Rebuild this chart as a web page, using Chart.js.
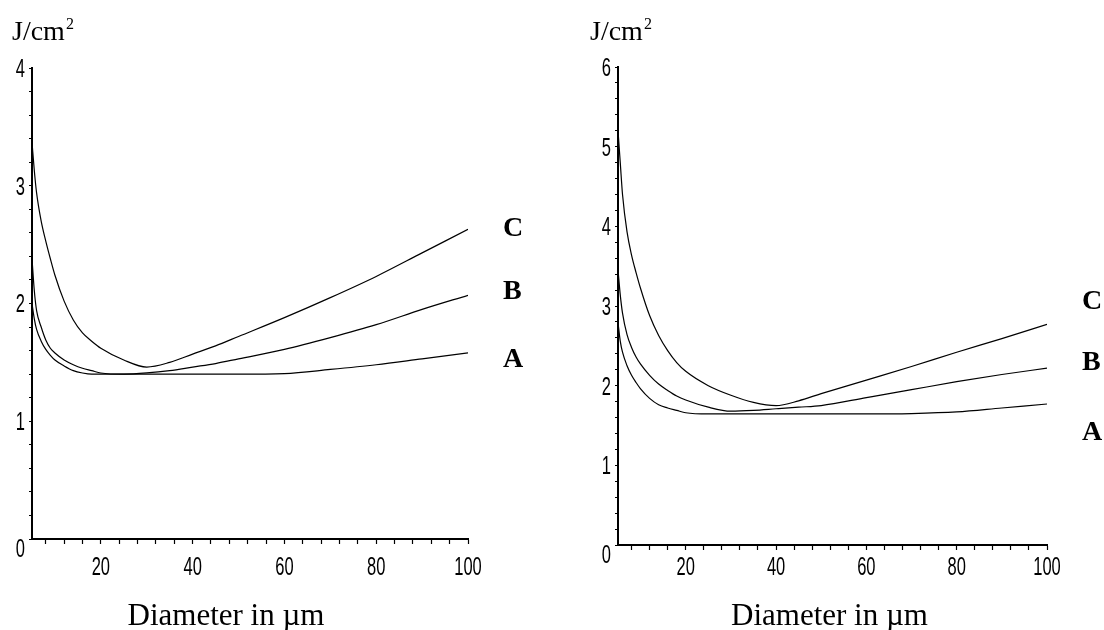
<!DOCTYPE html>
<html>
<head>
<meta charset="utf-8">
<script src="https://cdn.jsdelivr.net/npm/chart.js@4.4.1/dist/chart.umd.min.js"></script>
<style>
  html, body { margin: 0; padding: 0; background: #fff; }
  #wrap { position: relative; width: 1104px; height: 630px; }
  canvas { position: absolute; top: 0; }
</style>
</head>
<body>
<div id="wrap">
  <canvas id="left" width="552" height="630" style="left:0"></canvas>
  <canvas id="right" width="552" height="630" style="left:552px"></canvas>
</div>
<script>
// diameter (µm), shared by all curves
const diameters = [5, 5.5, 6, 7, 8, 9, 10, 12, 14, 16, 18, 20, 25, 30, 35, 40, 45, 50, 60, 70, 80, 90, 100]

// left panel, J/cm2
const leftA = [2.00, 1.87, 1.78, 1.68, 1.61, 1.56, 1.52, 1.47, 1.43, 1.41, 1.40, 1.40, 1.40, 1.40, 1.40, 1.40, 1.40, 1.40, 1.405, 1.44, 1.48, 1.53, 1.58]
const leftB = [2.38, 2.11, 1.94, 1.80, 1.69, 1.62, 1.58, 1.52, 1.48, 1.45, 1.43, 1.41, 1.40, 1.41, 1.43, 1.46, 1.49, 1.53, 1.61, 1.71, 1.82, 1.95, 2.07]
const leftC = [3.37, 3.13, 2.94, 2.70, 2.53, 2.38, 2.24, 2.02, 1.86, 1.75, 1.68, 1.62, 1.52, 1.46, 1.50, 1.57, 1.64, 1.72, 1.88, 2.05, 2.23, 2.43, 2.63]

// right panel, J/cm2
const rightA = [2.79, 2.56, 2.42, 2.25, 2.13, 2.04, 1.96, 1.84, 1.76, 1.72, 1.69, 1.66, 1.645, 1.645, 1.645, 1.645, 1.645, 1.645, 1.645, 1.65, 1.67, 1.72, 1.77]
const rightB = [3.45, 3.14, 2.91, 2.64, 2.48, 2.36, 2.27, 2.13, 2.02, 1.94, 1.87, 1.82, 1.73, 1.68, 1.69, 1.71, 1.73, 1.75, 1.85, 1.95, 2.05, 2.14, 2.22]
const rightC = [5.20, 4.80, 4.40, 3.93, 3.64, 3.42, 3.22, 2.88, 2.63, 2.44, 2.29, 2.18, 2.00, 1.88, 1.79, 1.75, 1.81, 1.90, 2.07, 2.24, 2.42, 2.59, 2.77]

// ticks
const xTickValues = [8, 12, 16, 20, 24, 28, 32, 36, 40, 44, 48, 52, 56, 60, 64, 68, 72, 76, 80, 84, 88, 92, 96, 100]
const xTickLabels = [20, 40, 60, 80, 100]
const leftYLabels = [0, 1, 2, 3, 4]
const rightYLabels = [0, 1, 2, 3, 4, 5, 6]

// curve names and where their letters sit (y value)
const seriesNames = ['A', 'B', 'C']
const leftNameY = [1.54, 2.12, 2.65]
const rightNameY = [1.44, 2.32, 3.08]

// narrow digits like the original plot
function narrowText(ctx, text, x, y, align) {
  ctx.save()
  ctx.translate(x, y)
  ctx.scale(0.66, 1)
  ctx.textAlign = align
  ctx.textBaseline = 'middle'
  ctx.fillText(String(text), 0, 0)
  ctx.restore()
}

const paperText = {
  id: 'paperText',
  afterDraw(chart) {
    const cfg = chart.options.plugins.paperText
    const ctx = chart.ctx
    const area = chart.chartArea
    const xs = chart.scales.x
    const ys = chart.scales.y
    ctx.save()
    ctx.fillStyle = '#000'

    // tick labels
    ctx.font = '25px "Liberation Sans", Arial, sans-serif'
    cfg.yLabels.forEach(v => {
      narrowText(ctx, v, area.left - 7, ys.getPixelForValue(v) + (v === 0 ? 11 : 2), 'right')
    })
    xTickLabels.forEach(v => {
      narrowText(ctx, v, xs.getPixelForValue(v), area.bottom + cfg.xLabelDy, 'center')
    })

    // unit on top
    ctx.textAlign = 'left'
    ctx.textBaseline = 'alphabetic'
    ctx.font = '28px "Liberation Serif", "Times New Roman", serif'
    const ux = area.left + cfg.unitDx
    ctx.fillText('J/cm', ux, 40)
    const uw = ctx.measureText('J/cm').width
    ctx.font = '16px "Liberation Serif", "Times New Roman", serif'
    ctx.fillText('2', ux + uw + 1, 29)

    // axis title
    ctx.textAlign = 'center'
    ctx.font = '31px "Liberation Serif", "Times New Roman", serif'
    ctx.fillText('Diameter in \u00b5m', (area.left + area.right) / 2 + cfg.titleDx, 625)

    // curve letters
    ctx.textAlign = 'left'
    ctx.font = 'bold 28px "Liberation Serif", "Times New Roman", serif'
    seriesNames.forEach((name, i) => {
      ctx.fillText(name, area.right + 35, ys.getPixelForValue(cfg.nameY[i]) + 9.5)
    })
    ctx.restore()
  }
}

function makeChart(id, series, yMax, opts) {
  const datasets = series.map(values => ({
    data: diameters.map((d, i) => ({ x: d, y: values[i] })),
    borderColor: '#000',
    borderWidth: 1.2,
    pointRadius: 0,
    fill: false,
    cubicInterpolationMode: 'monotone'
  }))

  return new Chart(document.getElementById(id), {
    type: 'line',
    data: { datasets },
    plugins: [paperText],
    options: {
      responsive: false,
      animation: false,
      layout: { padding: { left: 0, top: opts.top, right: opts.right, bottom: 0 } },
      plugins: {
        legend: { display: false },
        tooltip: { enabled: false },
        paperText: opts
      },
      scales: {
        x: {
          type: 'linear',
          min: 5,
          max: 100,
          afterBuildTicks: s => { s.ticks = xTickValues.map(v => ({ value: v })) },
          afterFit: s => { s.height = opts.axisBottom },
          ticks: { display: false },
          grid: { drawOnChartArea: false, drawTicks: true, tickLength: 5, tickColor: '#000', tickWidth: 1.2 },
          border: { display: true, color: '#000', width: 2 }
        },
        y: {
          type: 'linear',
          min: 0,
          max: yMax,
          afterBuildTicks: s => {
            const t = []
            for (let i = 0; i <= yMax * 5; i++) t.push({ value: i / 5 })
            s.ticks = t
          },
          afterFit: s => { s.width = opts.axisLeft },
          ticks: { display: false },
          grid: { drawOnChartArea: false, drawTicks: true, tickLength: 3, tickColor: '#000', tickWidth: 1.2 },
          border: { display: true, color: '#000', width: 2 }
        }
      }
    }
  })
}

// left panel
makeChart('left', [leftA, leftB, leftC], 4, {
  top: 68, right: 84, axisLeft: 32, axisBottom: 91,
  yLabels: leftYLabels, nameY: leftNameY,
  xLabelDy: 29, unitDx: -20, titleDx: -24
})

// right panel
makeChart('right', [rightA, rightB, rightC], 6, {
  top: 67, right: 57, axisLeft: 66, axisBottom: 85,
  yLabels: rightYLabels, nameY: rightNameY,
  xLabelDy: 23, unitDx: -28, titleDx: -3
})
</script>
</body>
</html>
